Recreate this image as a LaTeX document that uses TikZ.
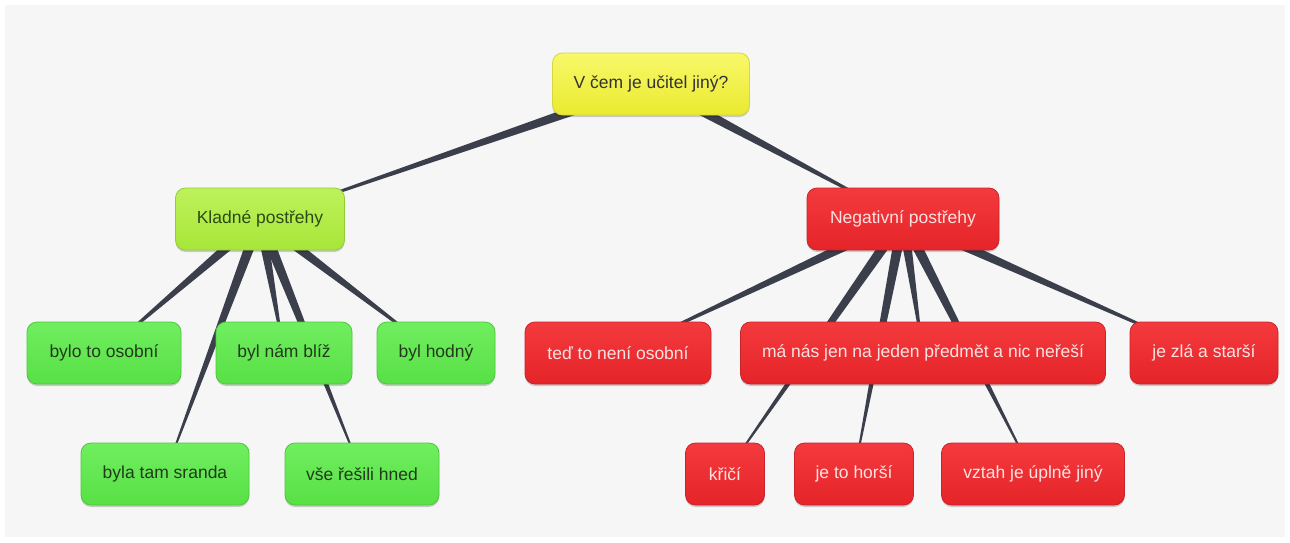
\documentclass[tikz,border=0pt]{standalone}
\usepackage{fontspec}
\setmainfont{Liberation Sans}
\usetikzlibrary{calc,shadows}
\pgfdeclarelayer{bg}
\pgfsetlayers{bg,main}
\definecolor{cbg}{HTML}{F6F6F6}
\definecolor{cconn}{HTML}{3B3F4B}
\definecolor{ytop}{HTML}{F8F86A}
\definecolor{ybot}{HTML}{EAEA30}
\definecolor{ydraw}{HTML}{D6D640}
\definecolor{ytext}{HTML}{333333}
\definecolor{ltop}{HTML}{BDF25A}
\definecolor{lbot}{HTML}{A8E63A}
\definecolor{ldraw}{HTML}{96CC38}
\definecolor{ltext}{HTML}{2D4A14}
\definecolor{gtop}{HTML}{70EE60}
\definecolor{gbot}{HTML}{58E045}
\definecolor{gdraw}{HTML}{4EC83C}
\definecolor{gtext}{HTML}{223A1C}
\definecolor{rtop}{HTML}{F43A3E}
\definecolor{rbot}{HTML}{E42428}
\definecolor{rdraw}{HTML}{C8242A}
\definecolor{rtext}{HTML}{FBE2E2}
\tikzset{
  mapnode/.style={rounded corners=10pt, minimum height=62pt, inner sep=0pt,
    font=\fontsize{17.5}{21}\selectfont, line width=0.8pt,
    drop shadow={shadow xshift=0pt, shadow yshift=-2pt, opacity=0.18, fill=black}},
  rootbox/.style={mapnode, top color=ytop, bottom color=ybot, draw=ydraw, text=ytext},
  posbox/.style={mapnode, top color=ltop, bottom color=lbot, draw=ldraw, text=ltext},
  greenbox/.style={mapnode, top color=gtop, bottom color=gbot, draw=gdraw, text=gtext},
  redbox/.style={mapnode, top color=rtop, bottom color=rbot, draw=rdraw, text=rtext},
  connfill/.style={fill=cconn}
}
\newcommand\linkw[3]{\fill[connfill] ($(#1.center)!#3!90:(#2.center)$) -- ($(#2.center)!0.4pt!-90:(#1.center)$) -- ($(#2.center)!0.4pt!90:(#1.center)$) -- ($(#1.center)!#3!-90:(#2.center)$) -- cycle;}
\begin{document}
\begin{tikzpicture}[x=1pt,y=-1pt]
\useasboundingbox (0,0) rectangle (1290,542);
\node[rootbox, minimum width=197pt] (root) at (651,84) {V čem je učitel jiný?};
\node[posbox, minimum width=169pt] (pos) at (260,219) {Kladné postřehy};
\node[redbox, minimum width=192pt] (neg) at (903,219) {Negativní postřehy};
\node[greenbox, minimum width=154pt] (p1) at (104,353) {bylo to osobní};
\node[greenbox, minimum width=136pt] (p2) at (284,353) {byl nám blíž};
\node[greenbox, minimum width=118pt] (p3) at (436,353) {byl hodný};
\node[greenbox, minimum width=168pt] (p4) at (165,474) {byla tam sranda};
\node[greenbox, minimum width=154pt] (p5) at (362,474) {vše řešili hned};
\node[redbox, minimum width=186pt] (n1) at (618,353) {teď to není osobní};
\node[redbox, minimum width=365pt] (n2) at (923,353) {má nás jen na jeden předmět a nic neřeší};
\node[redbox, minimum width=148pt] (n3) at (1204,353) {je zlá a starší};
\node[redbox, minimum width=79pt] (n4) at (725,474) {křičí};
\node[redbox, minimum width=119pt] (n5) at (854,474) {je to horší};
\node[redbox, minimum width=183pt] (n6) at (1033,474) {vztah je úplně jiný};
\begin{pgfonlayer}{bg}
\fill[white] (0,0) rectangle (1290,542);
\fill[cbg] (5,5) rectangle (1285,537);
\linkw{root}{pos}{5.5pt}
\linkw{root}{neg}{5.5pt}
\foreach \c in {p1,p2,p3,p4,p5} {\linkw{pos}{\c}{5.5pt}}
\foreach \c in {n1,n2,n3,n4,n5,n6} {\linkw{neg}{\c}{5.5pt}}
\end{pgfonlayer}
\end{tikzpicture}
\end{document}
